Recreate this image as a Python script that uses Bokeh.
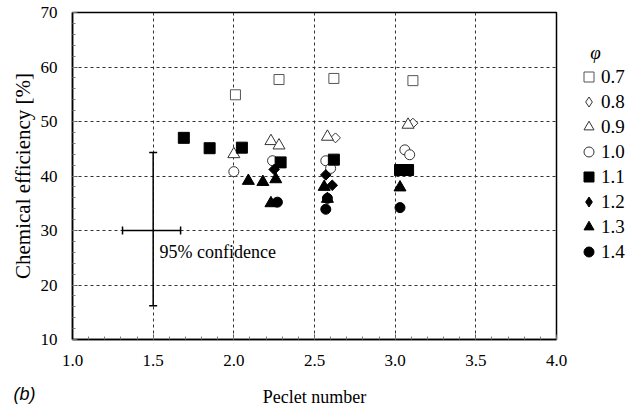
import numpy as np
from bokeh.plotting import figure
from bokeh.models import (Legend, LegendItem, Label, Whisker, TeeHead, Title,
                          ColumnDataSource, SingleIntervalTicker, Range1d,
                          CustomJSTickFormatter)
from bokeh.embed import file_html
from bokeh.resources import INLINE

# ---------------- data ----------------
phi_labels = ["0.7", "0.8", "0.9", "1.0", "1.1", "1.2", "1.3", "1.4"]

pe_07 = [2.01, 2.28, 2.62, 3.11]
ce_07 = [54.9, 57.7, 57.9, 57.5]

pe_08 = [2.63, 3.11]
ce_08 = [47.0, 49.7]

pe_09 = [2.00, 2.23, 2.28, 2.58, 3.08]
ce_09 = [44.0, 46.4, 45.6, 47.2, 49.4]

pe_10 = [2.00, 2.24, 2.57, 2.60, 3.06, 3.09]
ce_10 = [40.8, 42.8, 42.8, 41.4, 44.8, 43.9]

pe_11 = [1.69, 1.85, 2.05, 2.29, 2.62, 3.03, 3.08]
ce_11 = [47.0, 45.1, 45.2, 42.5, 43.0, 41.1, 41.1]

pe_12 = [2.25, 2.57, 2.61]
ce_12 = [41.2, 40.2, 38.3]

pe_13 = [2.09, 2.18, 2.26, 2.23, 2.56, 2.58, 3.03]
ce_13 = [39.1, 38.9, 39.4, 35.0, 38.0, 35.8, 37.9]

pe_14 = [2.27, 2.58, 2.57, 3.03]
ce_14 = [35.2, 35.9, 33.9, 34.2]

# 95% confidence cross
conf_x = [1.5]
conf_y_lo = [16.2]
conf_y_hi = [44.3]
conf_y = [30.0]
conf_x_lo = [1.31]
conf_x_hi = [1.67]

SERIF = "Liberation Serif"
NB = "\u00a0"

# ---------------- figure ----------------
p = figure(frame_width=484, frame_height=327,
           min_border_left=72, min_border_right=78,
           min_border_top=12, min_border_bottom=68,
           x_range=Range1d(1.0, 4.0), y_range=Range1d(10, 70),
           output_backend="svg", toolbar_location=None,
           background_fill_color="white", border_fill_color="white")

p.outline_line_color = "black"
p.outline_line_width = 1.5

for ax, iv in ((p.xaxis[0], 0.5), (p.yaxis[0], 10)):
    ax.ticker = SingleIntervalTicker(interval=iv, num_minor_ticks=5)
    ax.axis_line_color = "black"
    ax.axis_line_width = 1.5
    ax.major_tick_in = 5
    ax.major_tick_out = 0
    ax.minor_tick_in = 3
    ax.minor_tick_out = 0
    ax.major_tick_line_color = "#555555"
    ax.minor_tick_line_color = "#777777"
    ax.major_label_text_font = SERIF
    ax.major_label_text_font_size = "17px"
    ax.major_label_text_color = "black"
    ax.major_label_standoff = 15
    ax.axis_label_text_font = SERIF
    ax.axis_label_text_font_style = "normal"
    ax.axis_label_text_color = "black"

p.xaxis[0].formatter = CustomJSTickFormatter(code="return tick.toFixed(1);")
p.xaxis.axis_label = "Peclet number"
p.xaxis.axis_label_text_font_size = "18px"
p.xaxis.axis_label_standoff = 18

p.yaxis.axis_label = "Chemical efficiency [%]"
p.yaxis.axis_label_text_font_size = "21px"
p.yaxis.axis_label_standoff = 3

p.xgrid.ticker = SingleIntervalTicker(interval=0.5)
p.ygrid.ticker = SingleIntervalTicker(interval=10)
for g in (p.xgrid[0], p.ygrid[0]):
    g.grid_line_color = "#333333"
    g.grid_line_dash = "3 3"
    g.grid_line_width = 1

# ---------------- confidence cross ----------------
src_v = ColumnDataSource(dict(base=conf_x, lower=conf_y_lo, upper=conf_y_hi))
src_h = ColumnDataSource(dict(base=conf_y, lower=conf_x_lo, upper=conf_x_hi))
for src, dim in ((src_v, "height"), (src_h, "width")):
    p.add_layout(Whisker(source=src, base="base", lower="lower", upper="upper",
                         dimension=dim, line_color="black", line_width=1.5,
                         upper_head=TeeHead(size=8, line_width=1.5, line_color="black"),
                         lower_head=TeeHead(size=8, line_width=1.5, line_color="black")))

p.add_layout(Label(x=1.54, y=26.0, text="95% confidence",
                   text_font=SERIF, text_font_size="18px",
                   text_color="black", text_baseline="alphabetic",
                   text_align="left"))

# ---------------- data series ----------------
# (x, y, marker, size, fill, line, angle, legend marker)
series = [
    (pe_07, ce_07, "square", 10, "white", "#555555", 0, "square"),
    (pe_08, ce_08, "square", 7, "white", "#333333", np.pi / 4, "diamond"),
    (pe_09, ce_09, "triangle", 12, "white", "#333333", 0, "triangle"),
    (pe_10, ce_10, "circle", 10, "white", "#333333", 0, "circle"),
    (pe_11, ce_11, "square", 11, "black", "black", 0, "square"),
    (pe_12, ce_12, "square", 7.5, "black", "black", np.pi / 4, "diamond"),
    (pe_13, ce_13, "triangle", 12, "black", "black", 0, "triangle"),
    (pe_14, ce_14, "circle", 10, "black", "black", 0, "circle"),
]

items = []
for (xs, ys, mk, sz, fc, lc, ang, lmk), lab in zip(series, phi_labels):
    r = p.scatter(xs, ys, marker=mk, size=sz, fill_color=fc,
                  line_color=lc, line_width=1, angle=ang)
    if lmk != mk:
        # legend swatch: same points, zero size on the plot (legend sizes
        # its own swatch), because rotated markers are not rotated in legends
        r = p.scatter(xs, ys, marker=lmk, size=0, fill_color=fc,
                      line_color=lc, line_width=1)
    items.append(LegendItem(label=lab, renderers=[r]))

legend = Legend(items=items, location=(20, 75),
                title=NB * 3 + "φ", title_text_font=SERIF,
                title_text_font_style="italic", title_text_font_size="19px",
                title_text_color="black", title_standoff=-4,
                glyph_width=25, glyph_height=25, label_height=25,
                spacing=0, label_standoff=0, padding=0, margin=0,
                border_line_color=None, background_fill_alpha=0,
                label_text_font=SERIF, label_text_font_size="19px",
                label_text_color="black")
p.add_layout(legend, "right")

# panel letter below the plot, pulled up beside the axis label
p.add_layout(Title(text="(b)", align="left", offset=-59,
                   vertical_align="top", standoff=-52,
                   text_font="Liberation Sans", text_font_style="italic",
                   text_font_size="18px", text_color="black"), "below")

open("out.html", "w").write(file_html(p, INLINE))
